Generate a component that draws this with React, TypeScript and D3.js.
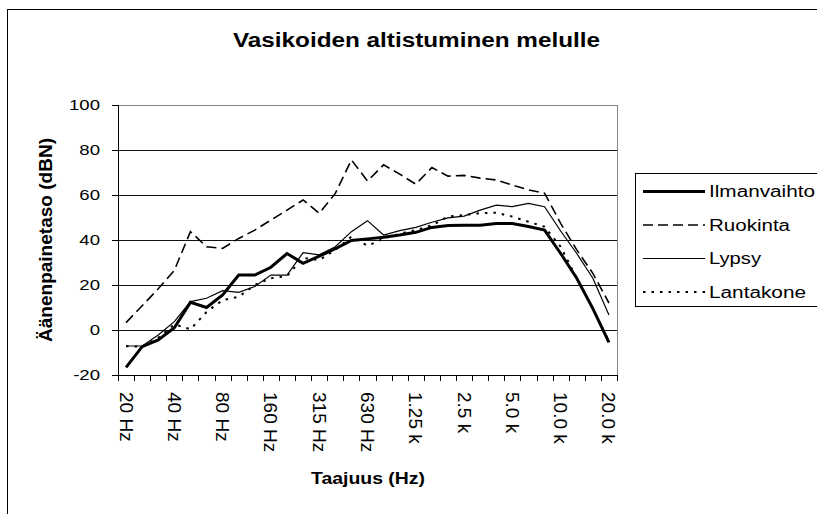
import React from "react";
import * as d3 from "d3";

const categories = ["20 Hz","25 Hz","31.5 Hz","40 Hz","50 Hz","63 Hz","80 Hz","100 Hz","125 Hz","160 Hz","200 Hz","250 Hz","315 Hz","400 Hz","500 Hz","630 Hz","800 Hz","1.0 k","1.25 k","1.6 k","2.0 k","2.5 k","3.15 k","4.0 k","5.0 k","6.3 k","8.0 k","10.0 k","12.5 k","16.0 k","20.0 k"];
const ilmanvaihto = [-16.6,-7.4,-4.4,1.0,12.3,10.0,15.6,24.4,24.4,27.9,34.0,29.6,32.8,36.1,39.8,40.5,41.2,42.2,43.4,45.6,46.4,46.6,46.6,47.3,47.3,46.0,44.4,34,23,9.5,-5.5];
const ruokinta = [3.3,10.8,18.3,26.5,43.7,37,36.3,40.7,44.4,48.9,53.3,57.8,51.9,60.7,75.6,66.2,73.4,69.3,64.8,72.2,68.4,68.7,67.5,66.7,64.4,62.3,60.8,47.4,35.6,25.2,12];
const lypsy = [-7.1,-7.1,-2.2,3.7,12.6,14.1,17.5,16.7,19.3,24.4,24.4,34.4,33.4,37,43.7,48.6,42.2,44.2,45.6,47.9,49.8,50.6,53.3,55.5,54.8,56.3,54.8,44,34,23,6.7];
const lantakone = [-7.2,-7.4,-3.5,2.5,0.3,8,13.3,14.8,20,23,24,32,31.1,35.6,41.5,37.4,40.6,42.8,44.4,46.5,50.4,51.1,51.9,52.1,50.4,48.1,45.9,37,23,9.5,-5];
const yTicks = [-20,0,20,40,60,80,100];
const seriesNames = ["Ilmanvaihto","Ruokinta","Lypsy","Lantakone"];
const legendLengths = [106,81,52,97];

const styles = [
  { w: 3, dash: "" },
  { w: 1.6, dash: "10,5" },
  { w: 1.2, dash: "" },
  { w: 2, dash: "2.5,6" },
];

const FONT = "'Liberation Sans', Arial, sans-serif";

export default function App() {
  const x = d3.scaleBand<string>().domain(categories).range([118, 617]).padding(0);
  const y = d3.scaleLinear().domain([-20, 100]).range([375, 105]);
  const cx = (c: string) => (x(c) as number) + x.bandwidth() / 2;
  const line = d3.line<number>().x((_, i) => cx(categories[i])).y((v) => y(v)).curve(d3.curveLinear);
  const data = [ilmanvaihto, ruokinta, lypsy, lantakone];
  const bw = x.bandwidth();
  const tickXs = d3.range(categories.length + 1).map((k) => 118 + k * bw);

  return (
    <svg width={817} height={514} style={{ position: "absolute", left: 0, top: 0, background: "#fff" }} fontFamily={FONT}>
      <rect x={0} y={0} width={817} height={514} fill="#fff" />
      <rect x={7.5} y={9.5} width={900} height={600} fill="none" stroke="#000" strokeWidth={1} />
      <text x={233} y={47} fontSize={19.5} fontWeight="bold" textLength={367} lengthAdjust="spacingAndGlyphs">Vasikoiden altistuminen melulle</text>

      {/* gridlines */}
      {yTicks.filter((t) => t > -20 && t < 100).map((t) => (
        <line key={"g" + t} x1={118} x2={617} y1={Math.round(y(t)) + 0.5} y2={Math.round(y(t)) + 0.5} stroke="#111" strokeWidth={1} />
      ))}
      <line x1={118} x2={617} y1={105.5} y2={105.5} stroke="#888" strokeWidth={1} />
      <line x1={617.5} x2={617.5} y1={105} y2={375} stroke="#888" strokeWidth={1} />

      {/* axes */}
      <line x1={118.5} x2={118.5} y1={105} y2={376} stroke="#000" strokeWidth={1} />
      <line x1={112} x2={618} y1={375.5} y2={375.5} stroke="#000" strokeWidth={1} />
      {yTicks.map((t) => (
        <g key={"yt" + t}>
          <line x1={112} x2={118} y1={Math.round(y(t)) + 0.5} y2={Math.round(y(t)) + 0.5} stroke="#000" />
          <text transform={`translate(100,${y(t)}) scale(1.24,1)`} textAnchor="end" dominantBaseline="central" fontSize={15}>{t}</text>
        </g>
      ))}
      {tickXs.map((tx, k) => (
        <line key={"xt" + k} x1={Math.round(tx) + 0.5} x2={Math.round(tx) + 0.5} y1={375} y2={381} stroke="#000" />
      ))}
      {categories.map((c, i) => i % 3 === 0 ? (
        <text key={"xl" + i} transform={`translate(${cx(c)},392) rotate(90)`} textAnchor="start" dominantBaseline="central" fontSize={19}>{c}</text>
      ) : null)}

      <text transform="translate(45,240) rotate(-90)" textAnchor="middle" dominantBaseline="central" fontSize={19} fontWeight="bold" textLength={204} lengthAdjust="spacingAndGlyphs">Äänenpainetaso (dBN)</text>
      <text x={311} y={484} fontSize={17} fontWeight="bold" textLength={114} lengthAdjust="spacingAndGlyphs">Taajuus (Hz)</text>

      {/* series */}
      {data.map((d, s) => (
        <path key={"s" + s} d={line(d) as string} fill="none" stroke="#000" strokeWidth={styles[s].w} strokeDasharray={styles[s].dash || undefined} strokeLinejoin="miter" />
      ))}

      {/* legend */}
      <rect x={635.5} y={173.5} width={200} height={133} fill="#fff" stroke="#000" strokeWidth={1} />
      {seriesNames.map((n, s) => {
        const ly = 191.5 + s * 33.5;
        return (
          <g key={"lg" + s}>
            <line x1={643} x2={705} y1={ly} y2={ly} stroke="#000" strokeWidth={styles[s].w} strokeDasharray={styles[s].dash || undefined} />
            <text x={709} y={ly} dominantBaseline="central" fontSize={16} textLength={legendLengths[s]} lengthAdjust="spacingAndGlyphs">{n}</text>
          </g>
        );
      })}
    </svg>
  );
}
